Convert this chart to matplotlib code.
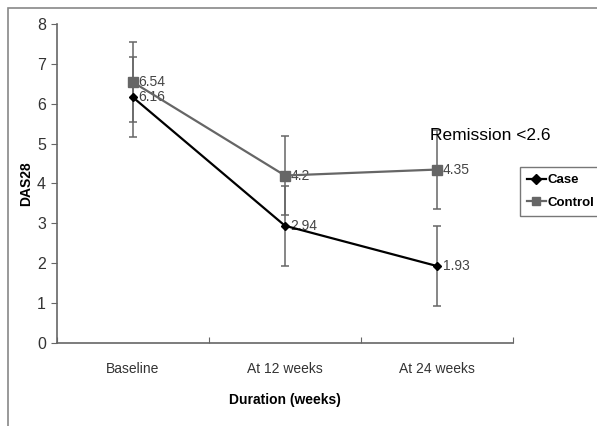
import matplotlib
matplotlib.use("Agg")
import matplotlib.pyplot as plt
from matplotlib.patches import Rectangle
from matplotlib.lines import Line2D

categories = ["Baseline", "At 12 weeks", "At 24 weeks"]
case_vals = [6.16, 2.94, 1.93]
control_vals = [6.54, 4.2, 4.35]
case_err = [1.0, 1.0, 1.0]
control_err = [1.0, 1.0, 1.0]
case_labels = ["6.16", "2.94", "1.93"]
control_labels = ["6.54", "4.2", "4.35"]

plt.rcParams['font.family'] = ['Liberation Sans', 'DejaVu Sans']

W, H = 597, 426
fig = plt.figure(figsize=(W/100, H/100), dpi=100)
ax = fig.add_axes([57/W, 1-343/H, (513-57)/W, (343-24)/H])

x = [0.5, 1.5, 2.5]
grey = "#666666"
ax.errorbar(x, control_vals, yerr=control_err, color=grey, ecolor=grey,
            marker='s', markersize=7, lw=1.6, elinewidth=1.1, capsize=3,
            capthick=1.1, label="Control", zorder=3)
ax.errorbar(x, case_vals, yerr=case_err, color="black", ecolor=grey,
            marker='D', markersize=4.5, lw=1.6, elinewidth=1.1, capsize=3,
            capthick=1.1, label="Case", zorder=4)

for xi, v, t in zip(x, control_vals, control_labels):
    ax.annotate(t, (xi, v), xytext=(4, 0), textcoords='offset points',
                ha='left', va='center', fontsize=10, color="#444444")
for xi, v, t in zip(x, case_vals, case_labels):
    ax.annotate(t, (xi, v), xytext=(4, 0), textcoords='offset points',
                ha='left', va='center', fontsize=10, color="#444444")

ax.set_xlim(0, 3)
ax.set_ylim(0, 8)
ax.set_xticks([0, 1, 2, 3])
ax.set_xticklabels([])
ax.set_xticks(x, minor=True)
ax.set_xticklabels(categories, minor=True, fontsize=10, color="#333333")
ax.tick_params(axis='x', which='minor', length=0, pad=14)
ax.tick_params(axis='x', which='major', length=4, direction='in', color=grey)
ax.set_yticks(range(0, 9))
ax.tick_params(axis='y', length=4, direction='out', color=grey, labelsize=11.5,
               labelcolor="#333333", pad=4)
for s in ['top', 'right']:
    ax.spines[s].set_visible(False)
for s in ['left', 'bottom']:
    ax.spines[s].set_color(grey)
    ax.spines[s].set_linewidth(1.2)

ax.set_ylabel("DAS28", fontsize=10, fontweight='bold', labelpad=3)
ax.set_xlabel("Duration (weeks)", fontsize=10, fontweight='bold', labelpad=12)

fig.text(430/W, 1-135/H, "Remission <2.6", fontsize=12.5, color="black",
         ha='left', va='center')

handles = [Line2D([0], [0], color='black', marker='D', markersize=5, lw=1.6),
           Line2D([0], [0], color=grey, marker='s', markersize=6, lw=1.6)]
leg = fig.legend(handles, ["Case", "Control"], loc='upper left',
                 bbox_to_anchor=(520/W, 1-167/H), frameon=True, fancybox=False,
                 edgecolor="#555555", prop={'weight': 'bold', 'size': 9.5},
                 handlelength=1.4, handletextpad=0.15, borderpad=0.55,
                 borderaxespad=0, labelspacing=0.75)
leg.get_frame().set_linewidth(1.0)

fig.patches.append(Rectangle((8/W, -0.1), 1.2, 1-8/H+0.1,
                             transform=fig.transFigure, fill=False,
                             edgecolor="#888888", lw=1.2))

fig.savefig("out.png", dpi=100)
